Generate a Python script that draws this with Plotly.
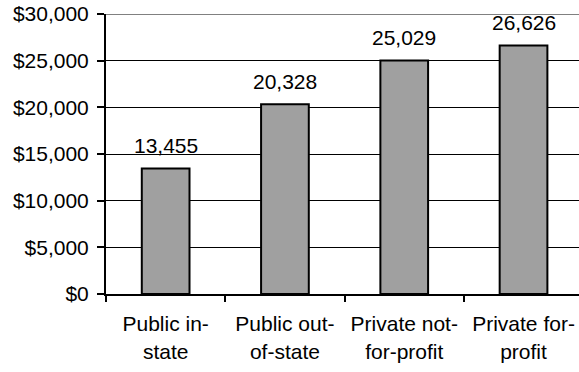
import plotly.graph_objects as go

categories = ["Public in-<br>state", "Public out-<br>of-state", "Private not-<br>for-profit", "Private for-<br>profit"]
values = [13455, 20328, 25029, 26626]
y_ticks = [0, 5000, 10000, 15000, 20000, 25000, 30000]
y_tick_text = ["$" + f"{v:,}" for v in y_ticks]

FONT = dict(family="Arial, Liberation Sans, sans-serif", size=21, color="black")

fig = go.Figure()
fig.add_trace(go.Bar(
    x=categories, y=values, width=0.40,
    marker=dict(color="#a0a0a0", line=dict(color="black", width=2)),
    hoverinfo="skip",
))
for c, v in zip(categories, values):
    fig.add_annotation(x=c, y=v, text=f"{v:,}", showarrow=False,
                       yanchor="middle", yshift=23, font=FONT)

fig.update_layout(
    width=579, height=372,
    margin=dict(l=106, r=0, t=14, b=78),
    paper_bgcolor="white", plot_bgcolor="white",
    showlegend=False, font=FONT,
)
fig.update_xaxes(
    type="category", tickson="boundaries", ticks="outside", ticklen=6,
    tickcolor="black", tickwidth=2, showline=True, linecolor="black",
    linewidth=2, showgrid=False, tickfont=FONT, range=[-0.5, 3.465],
    ticklabelstandoff=10,
)
fig.update_yaxes(
    range=[0, 30000], tickvals=y_ticks, ticktext=y_tick_text,
    ticks="outside", ticklen=7, tickcolor="black", tickwidth=2,
    showline=True, linecolor="black", linewidth=2,
    showgrid=True, gridcolor="black", gridwidth=1, zeroline=False,
    tickfont=FONT, ticklabelstandoff=4,
)
fig.add_shape(type="line", xref="paper", yref="y", x0=0, x1=1, y0=30000, y1=30000,
              line=dict(color="#808080", width=2))
fig.write_html("out.html")
